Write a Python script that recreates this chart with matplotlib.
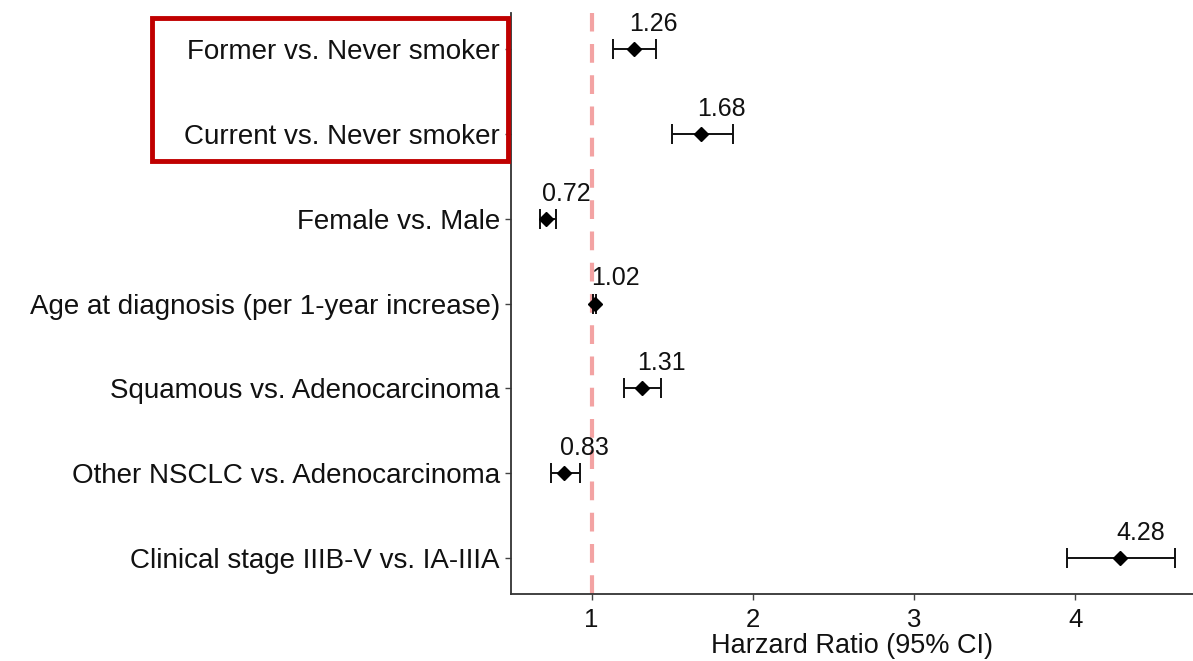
import numpy as np
import matplotlib
matplotlib.use("Agg")
import matplotlib.pyplot as plt
from matplotlib.patches import Rectangle

plt.rcParams['font.family'] = ['Liberation Sans', 'DejaVu Sans']

# data
labels = ["Former vs. Never smoker", "Current vs. Never smoker", "Female vs. Male",
          "Age at diagnosis (per 1-year increase)", "Squamous vs. Adenocarcinoma",
          "Other NSCLC vs. Adenocarcinoma", "Clinical stage IIIB-V vs. IA-IIIA"]
hr = [1.26, 1.68, 0.72, 1.02, 1.31, 0.83, 4.28]
ci_low = [1.13, 1.50, 0.68, 1.01, 1.20, 0.75, 3.95]
ci_high = [1.40, 1.88, 0.78, 1.03, 1.43, 0.93, 4.62]
x_ticks = [1, 2, 3, 4]

W, H = 1193, 661
fig = plt.figure(figsize=(W / 100, H / 100), dpi=100)
ax = fig.add_axes([511 / W, 1 - 594 / H, (W - 511) / W, (594 - 13) / H])

y = np.arange(len(labels))
hr_a = np.array(hr)
err = [hr_a - np.array(ci_low), np.array(ci_high) - hr_a]

ax.axvline(1, color='#F3A3A3', lw=3, ls=(0, (4.5, 3)), zorder=1)
ax.errorbar(hr, y, xerr=err, fmt='D', color='black', ecolor='#111111',
            markersize=7.5, elinewidth=1.4, capsize=7.5, capthick=1.4, zorder=3)

for yi, v in zip(y, hr):
    ax.annotate(f"{v:.2f}", (v, yi), xytext=(-3, 13), textcoords='offset points',
                ha='left', va='baseline', fontsize=18, color='#111111')

ax.set_ylim(len(labels) - 1 + 0.42, -0.42)
ax.set_xlim(0.5, 4.73)
ax.set_yticks(y)
ax.set_yticklabels(labels, fontsize=20, color='#111111')
ax.set_xticks(x_ticks)
ax.set_xticklabels([str(t) for t in x_ticks], fontsize=18.5, color='#111111')
ax.set_xlabel("Harzard Ratio (95% CI)", fontsize=19.5, color='#111111', labelpad=1)

for s in ['top', 'right']:
    ax.spines[s].set_visible(False)
for s in ['left', 'bottom']:
    ax.spines[s].set_color('#333333')
    ax.spines[s].set_linewidth(1.3)
ax.tick_params(axis='both', length=4, width=1, color='#444444', pad=4)
ax.tick_params(axis='x', pad=6)

# red highlight box around smoking rows
fig.patches.append(Rectangle((152 / W, 1 - 161 / H), (508 - 152) / W, (161 - 18) / H,
                             transform=fig.transFigure, fill=False,
                             edgecolor='#C00000', lw=3.5, zorder=10))

fig.savefig("out.png", dpi=100)
